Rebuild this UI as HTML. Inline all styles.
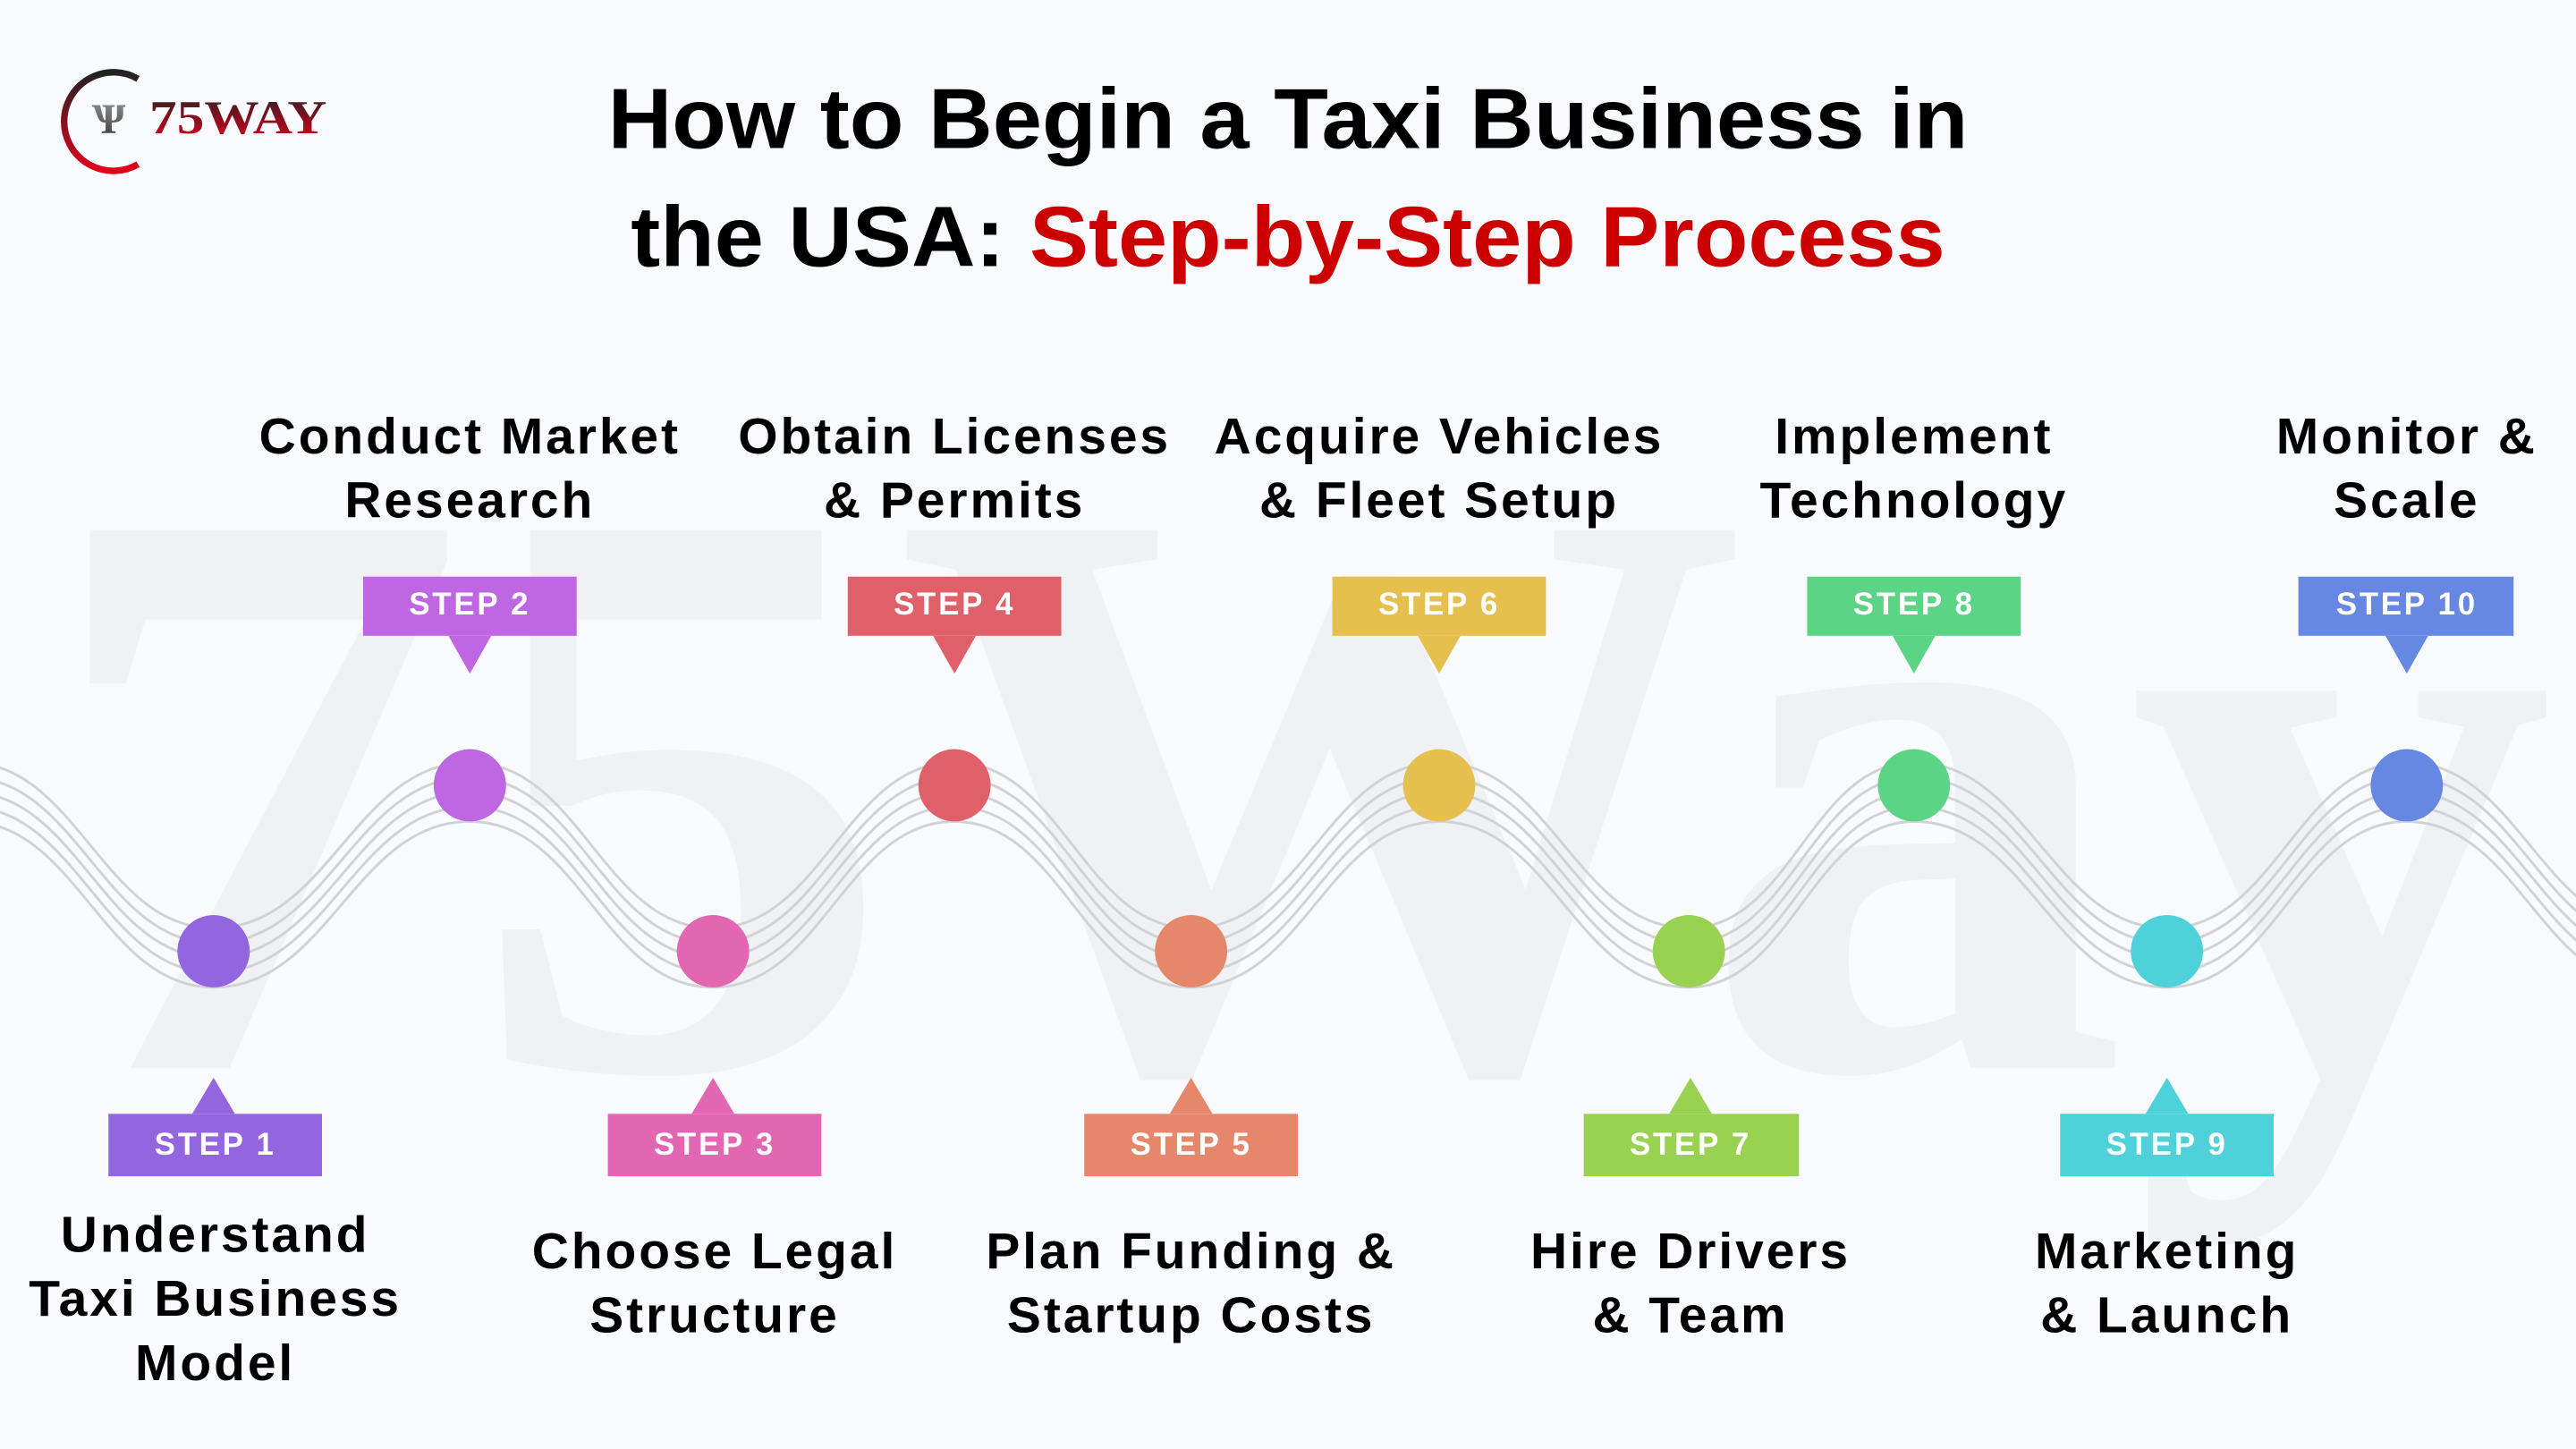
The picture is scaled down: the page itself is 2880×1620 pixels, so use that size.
<!DOCTYPE html>
<html><head><meta charset="utf-8"><style>
html,body{margin:0;padding:0;background:#f9fafd;}
svg{display:block;}
text{font-family:"Liberation Sans",sans-serif;}
</style></head><body>
<svg width="2880" height="1620" viewBox="0 0 1568 882" xmlns="http://www.w3.org/2000/svg">
<defs>
<linearGradient id="lg" x1="0" y1="0" x2="0" y2="1"><stop offset="0" stop-color="#222"/><stop offset="1" stop-color="#e3001b"/></linearGradient>
<linearGradient id="lg2" x1="0" y1="0" x2="0" y2="1"><stop offset="0" stop-color="#999"/><stop offset="1" stop-color="#333"/></linearGradient>
</defs>
<rect width="1568" height="882" fill="#f9fafd"/>
<text x="790" y="650" text-anchor="middle" font-weight="bold" font-size="500" fill="#f0f1f4" style="font-family:'Liberation Serif',serif" textLength="1530" lengthAdjust="spacingAndGlyphs">75Way</text>

<!-- logo -->
<path d="M84 48 A30 30 0 1 0 84 100" fill="none" stroke="url(#lg)" stroke-width="4"/>
<text x="56" y="81" font-size="26" font-weight="bold" fill="url(#lg2)" style="font-family:'Liberation Serif',serif">Ѱ</text>
<text x="91" y="81" font-size="29" font-weight="bold" fill="url(#lg)" style="font-family:'Liberation Serif',serif" textLength="108" lengthAdjust="spacingAndGlyphs">75WAY</text>

<!-- title -->
<text x="784" y="90" text-anchor="middle" font-size="52" font-weight="bold" fill="#000" textLength="828" lengthAdjust="spacingAndGlyphs">How to Begin a Taxi Business in</text>
<text x="784" y="162" text-anchor="middle" font-size="52" font-weight="bold" fill="#000" textLength="800" lengthAdjust="spacingAndGlyphs">the USA: <tspan fill="#cc0000">Step-by-Step Process</tspan></text>

<!-- wave -->
<g fill="none" stroke="#d2d2d4" stroke-width="1.6">
<path id="w" d="M-170 579 C-103 579,-87 478,-20 478 C47 478,63 579,130 579 C200 579,216 478,286 478 C353 478,367 579,434 579 C500 579,515 478,581 478 C646 478,660 579,725 579 C793 579,808 478,876 478 C944 478,960 579,1028 579 C1090 579,1103 478,1165 478 C1234 478,1250 579,1319 579 C1385 579,1399 478,1465 478 C1532 478,1548 579,1615 579" transform="translate(0,-14)"/>
<use href="#w" transform="translate(0,9)"/>
<use href="#w" transform="translate(0,18)"/>
<use href="#w" transform="translate(0,27)"/>
<use href="#w" transform="translate(0,36)"/>
</g>

<!-- nodes -->
<circle cx="130" cy="579" r="22" fill="#9366e0"/>
<circle cx="286" cy="478" r="22" fill="#bf66e3"/>
<circle cx="434" cy="579" r="22" fill="#e366b2"/>
<circle cx="581" cy="478" r="22" fill="#e0606a"/>
<circle cx="725" cy="579" r="22" fill="#e6866a"/>
<circle cx="876" cy="478" r="22" fill="#e6c04f"/>
<circle cx="1028" cy="579" r="22" fill="#99d150"/>
<circle cx="1165" cy="478" r="22" fill="#5cd486"/>
<circle cx="1319" cy="579" r="22" fill="#4fd1d9"/>
<circle cx="1465" cy="478" r="22" fill="#6688e3"/>

<g font-size="19" font-weight="bold" fill="#fff" text-anchor="middle" letter-spacing="1.5">
<g fill="#bf66e3"><rect x="221" y="351" width="130" height="36"/><path d="M273 387 L286 410 L299 387Z"/></g>
<text x="286" y="374">STEP 2</text>
<g fill="#e0606a"><rect x="516" y="351" width="130" height="36"/><path d="M568 387 L581 410 L594 387Z"/></g>
<text x="581" y="374">STEP 4</text>
<g fill="#e6c04f"><rect x="811" y="351" width="130" height="36"/><path d="M863 387 L876 410 L889 387Z"/></g>
<text x="876" y="374">STEP 6</text>
<g fill="#5cd486"><rect x="1100" y="351" width="130" height="36"/><path d="M1152 387 L1165 410 L1178 387Z"/></g>
<text x="1165" y="374">STEP 8</text>
<g fill="#6688e3"><rect x="1399" y="351" width="131" height="36"/><path d="M1452 387 L1465 410 L1478 387Z"/></g>
<text x="1465" y="374">STEP 10</text>

<g fill="#9366e0"><rect x="66" y="678" width="130" height="38"/><path d="M117 678 L130 656 L143 678Z"/></g>
<text x="131" y="703">STEP 1</text>
<g fill="#e366b2"><rect x="370" y="678" width="130" height="38"/><path d="M421 678 L434 656 L447 678Z"/></g>
<text x="435" y="703">STEP 3</text>
<g fill="#e6866a"><rect x="660" y="678" width="130" height="38"/><path d="M712 678 L725 656 L738 678Z"/></g>
<text x="725" y="703">STEP 5</text>
<g fill="#99d150"><rect x="964" y="678" width="131" height="38"/><path d="M1016 678 L1029 656 L1042 678Z"/></g>
<text x="1029" y="703">STEP 7</text>
<g fill="#4fd1d9"><rect x="1254" y="678" width="130" height="38"/><path d="M1306 678 L1319 656 L1332 678Z"/></g>
<text x="1319" y="703">STEP 9</text>
</g>

<g font-size="31" font-weight="bold" fill="#000" text-anchor="middle" letter-spacing="1.6">
<text x="286" y="276">Conduct Market</text><text x="286" y="315">Research</text>
<text x="581" y="276">Obtain Licenses</text><text x="581" y="315">&amp; Permits</text>
<text x="876" y="276">Acquire Vehicles</text><text x="876" y="315">&amp; Fleet Setup</text>
<text x="1165" y="276">Implement</text><text x="1165" y="315">Technology</text>
<text x="1465" y="276">Monitor &amp;</text><text x="1465" y="315">Scale</text>
<text x="131" y="762">Understand</text><text x="131" y="801">Taxi Business</text><text x="131" y="840">Model</text>
<text x="435" y="772">Choose Legal</text><text x="435" y="811">Structure</text>
<text x="725" y="772">Plan Funding &amp;</text><text x="725" y="811">Startup Costs</text>
<text x="1029" y="772">Hire Drivers</text><text x="1029" y="811">&amp; Team</text>
<text x="1319" y="772">Marketing</text><text x="1319" y="811">&amp; Launch</text>
</g>
</svg>
</body></html>
